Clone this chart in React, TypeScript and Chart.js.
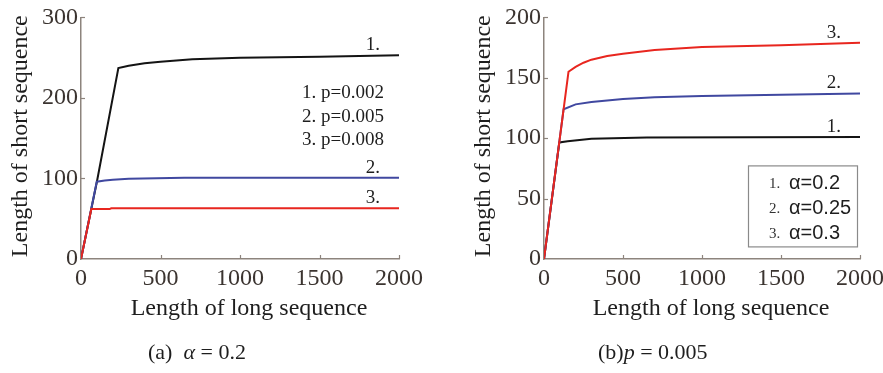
import React, { useEffect, useRef } from "react";
import { Chart, registerables } from "chart.js";

Chart.register(...registerables);

// ---------- shared axis values ----------
const xTickValues = [0, 500, 1000, 1500, 2000];
const yTicksA = [0, 100, 200, 300];
const yTicksB = [0, 50, 100, 150, 200];

// ---------- panel (a): alpha = 0.2 ----------
const aBlackX = [0, 100, 235, 300, 400, 500, 700, 1000, 1500, 2000];
const aBlackY = [0, 96, 237, 240, 243, 245, 248, 250, 251, 253];
const aBlueX = [0, 99, 150, 200, 300, 650, 2000];
const aBlueY = [0, 96, 97.5, 98.5, 99.5, 101, 101];
const aRedX = [0, 65, 180, 190, 2000];
const aRedY = [0, 62, 62, 63, 63];
const aLegend = ["1. p=0.002", "2. p=0.005", "3. p=0.008"];

// ---------- panel (b): p = 0.005 ----------
const bBlackX = [0, 97, 150, 300, 650, 2000];
const bBlackY = [0, 96.5, 97.5, 99.5, 100.5, 101];
const bBlueX = [0, 124, 200, 300, 500, 700, 1000, 1500, 2000];
const bBlueY = [0, 124, 128, 130, 132.5, 134, 135, 136, 137];
const bRedX = [0, 155, 200, 250, 300, 400, 500, 700, 1000, 1500, 2000];
const bRedY = [0, 155, 159, 162.5, 165, 168, 170, 173, 175.5, 177, 179];
const bLegendNum = ["1.", "2.", "3."];
const bLegendText = ["α=0.2", "α=0.25", "α=0.3"];

const curveLabels = ["1.", "2.", "3."];
const xTitle = "Length of long sequence";
const yTitle = "Length of short sequence";

const AXIS = "#8d847d";
const TICK_TXT = "#3b3430";
const BLACK = "#141414";
const BLUE = "#4048a0";
const RED = "#e8261f";
const SERIF = "'Liberation Serif', 'Times New Roman', serif";
const SANS = "'Liberation Sans', Arial, sans-serif";

const pts = (xs: number[], ys: number[]) => xs.map((x, i) => ({ x, y: ys[i] }));

function makeDecor(kind: "a" | "b", labelYs: number[]) {
  return {
    id: "decor" + kind,
    afterDraw(chart: any) {
      const { ctx, chartArea: ca, scales } = chart;
      const x = scales.x;
      const y = scales.y;
      ctx.save();
      // inward tick marks
      ctx.strokeStyle = AXIS;
      ctx.lineWidth = 1.2;
      xTickValues.slice(1).forEach((v) => {
        const px = Math.round(x.getPixelForValue(v)) + 0.5;
        ctx.beginPath();
        ctx.moveTo(px, ca.bottom);
        ctx.lineTo(px, ca.bottom - 4);
        ctx.stroke();
      });
      (kind === "a" ? yTicksA : yTicksB).slice(1).forEach((v) => {
        const py = Math.round(y.getPixelForValue(v)) + 0.5;
        ctx.beginPath();
        ctx.moveTo(ca.left, py);
        ctx.lineTo(ca.left + 4, py);
        ctx.stroke();
      });
      // axis titles
      ctx.fillStyle = "#1e1e1e";
      ctx.font = `24px ${SERIF}`;
      ctx.textAlign = "center";
      ctx.textBaseline = "middle";
      ctx.fillText(xTitle, (ca.left + ca.right) / 2 + 9, ca.bottom + 50);
      ctx.save();
      ctx.translate(ca.left - 60, (ca.top + ca.bottom) / 2 - 2);
      ctx.rotate(-Math.PI / 2);
      ctx.fillText(yTitle, 0, 0);
      ctx.restore();
      // curve labels
      ctx.font = `19px ${SERIF}`;
      ctx.fillStyle = "#1e1e1e";
      labelYs.forEach((v, i) => {
        ctx.fillText(curveLabels[i], x.getPixelForValue(1835), y.getPixelForValue(v) - 10);
      });
      // legend
      if (kind === "a") {
        ctx.textAlign = "left";
        ctx.font = `19px ${SERIF}`;
        aLegend.forEach((t, i) => {
          ctx.fillText(t, ca.left + 221, ca.top + 76 + i * 23.5);
        });
      } else {
        ctx.strokeStyle = "#8a8a8a";
        ctx.lineWidth = 1.2;
        ctx.strokeRect(ca.left + 204.5, ca.top + 148.5, 109, 81);
        ctx.textAlign = "left";
        bLegendNum.forEach((t, i) => {
          const cy = ca.top + 166 + i * 25;
          ctx.font = `15px ${SERIF}`;
          ctx.fillStyle = "#333";
          ctx.fillText(t, ca.left + 225, cy + 1);
          ctx.font = `20px ${SANS}`;
          ctx.fillStyle = "#1e1e1e";
          ctx.fillText(bLegendText[i], ca.left + 245, cy);
        });
      }
      ctx.restore();
    },
  };
}

function buildConfig(kind: "a" | "b") {
  const isA = kind === "a";
  const black = isA ? pts(aBlackX, aBlackY) : pts(bBlackX, bBlackY);
  const blue = isA ? pts(aBlueX, aBlueY) : pts(bBlueX, bBlueY);
  const red = isA ? pts(aRedX, aRedY) : pts(bRedX, bRedY);
  const yTicks = isA ? yTicksA : yTicksB;
  const labelYs = [black[black.length - 1].y, blue[blue.length - 1].y, red[red.length - 1].y];
  const yWidth = isA ? 81 : 103;
  const rightPad = isA ? 42 : 50;
  return {
    type: "line" as const,
    data: {
      datasets: [
        { label: "3", data: red, borderColor: RED, order: 0 },
        { label: "2", data: blue, borderColor: BLUE, order: 1 },
        { label: "1", data: black, borderColor: BLACK, order: 2 },
      ],
    },
    options: {
      responsive: false,
      animation: false as const,
      devicePixelRatio: 1,
      layout: { autoPadding: false, padding: { left: 0, right: rightPad, top: 10, bottom: 0 } },
      plugins: { legend: { display: false }, tooltip: { enabled: false }, title: { display: false } },
      elements: {
        point: { radius: 0 },
        line: { borderWidth: 2, tension: 0, fill: false },
      },
      scales: {
        x: {
          type: "linear" as const,
          min: 0,
          max: 2000,
          afterFit: (s: any) => {
            s.height = 114;
          },
          afterBuildTicks: (s: any) => {
            s.ticks = xTickValues.map((v) => ({ value: v }));
          },
          grid: { display: false, drawTicks: false },
          border: { display: true, color: AXIS, width: 1.5 },
          ticks: {
            padding: 5,
            color: TICK_TXT,
            font: { family: SERIF, size: 24 },
            maxRotation: 0,
            autoSkip: false,
            callback: (v: any) => String(v),
          },
        },
        y: {
          type: "linear" as const,
          min: 0,
          max: yTicks[yTicks.length - 1],
          afterFit: (s: any) => {
            s.width = yWidth;
          },
          afterBuildTicks: (s: any) => {
            s.ticks = yTicks.map((v) => ({ value: v }));
          },
          grid: { display: false, drawTicks: false },
          border: { display: true, color: AXIS, width: 1.5 },
          ticks: {
            padding: 3,
            color: TICK_TXT,
            font: { family: SERIF, size: 24 },
            autoSkip: false,
            callback: (v: any) => String(v),
          },
        },
      },
    },
    plugins: [makeDecor(kind, labelYs)],
  };
}

function Panel({ kind, left, width }: { kind: "a" | "b"; left: number; width: number }) {
  const ref = useRef<HTMLCanvasElement | null>(null);
  useEffect(() => {
    if (!ref.current) return;
    const chart = new Chart(ref.current, buildConfig(kind) as any);
    return () => chart.destroy();
  }, [kind]);
  return (
    <canvas
      ref={ref}
      width={width}
      height={373}
      style={{ position: "absolute", left, top: 0, width, height: 373 }}
    />
  );
}

export default function App() {
  useEffect(() => {
    document.body.style.margin = "0";
    document.body.style.background = "#fff";
  }, []);
  const cap: React.CSSProperties = {
    position: "absolute",
    top: 338,
    fontFamily: SERIF,
    fontSize: 22,
    color: "#1e1e1e",
    whiteSpace: "pre",
    lineHeight: "28px",
  };
  return (
    <div style={{ position: "relative", width: 883, height: 373, background: "#fff", overflow: "hidden" }}>
      <Panel kind="a" left={0} width={441} />
      <Panel kind="b" left={441} width={469} />
      <div style={{ ...cap, left: 148 }}>
        (a)  <i>α</i> = 0.2
      </div>
      <div style={{ ...cap, left: 598 }}>
        (b)<i>p</i> = 0.005
      </div>
    </div>
  );
}
